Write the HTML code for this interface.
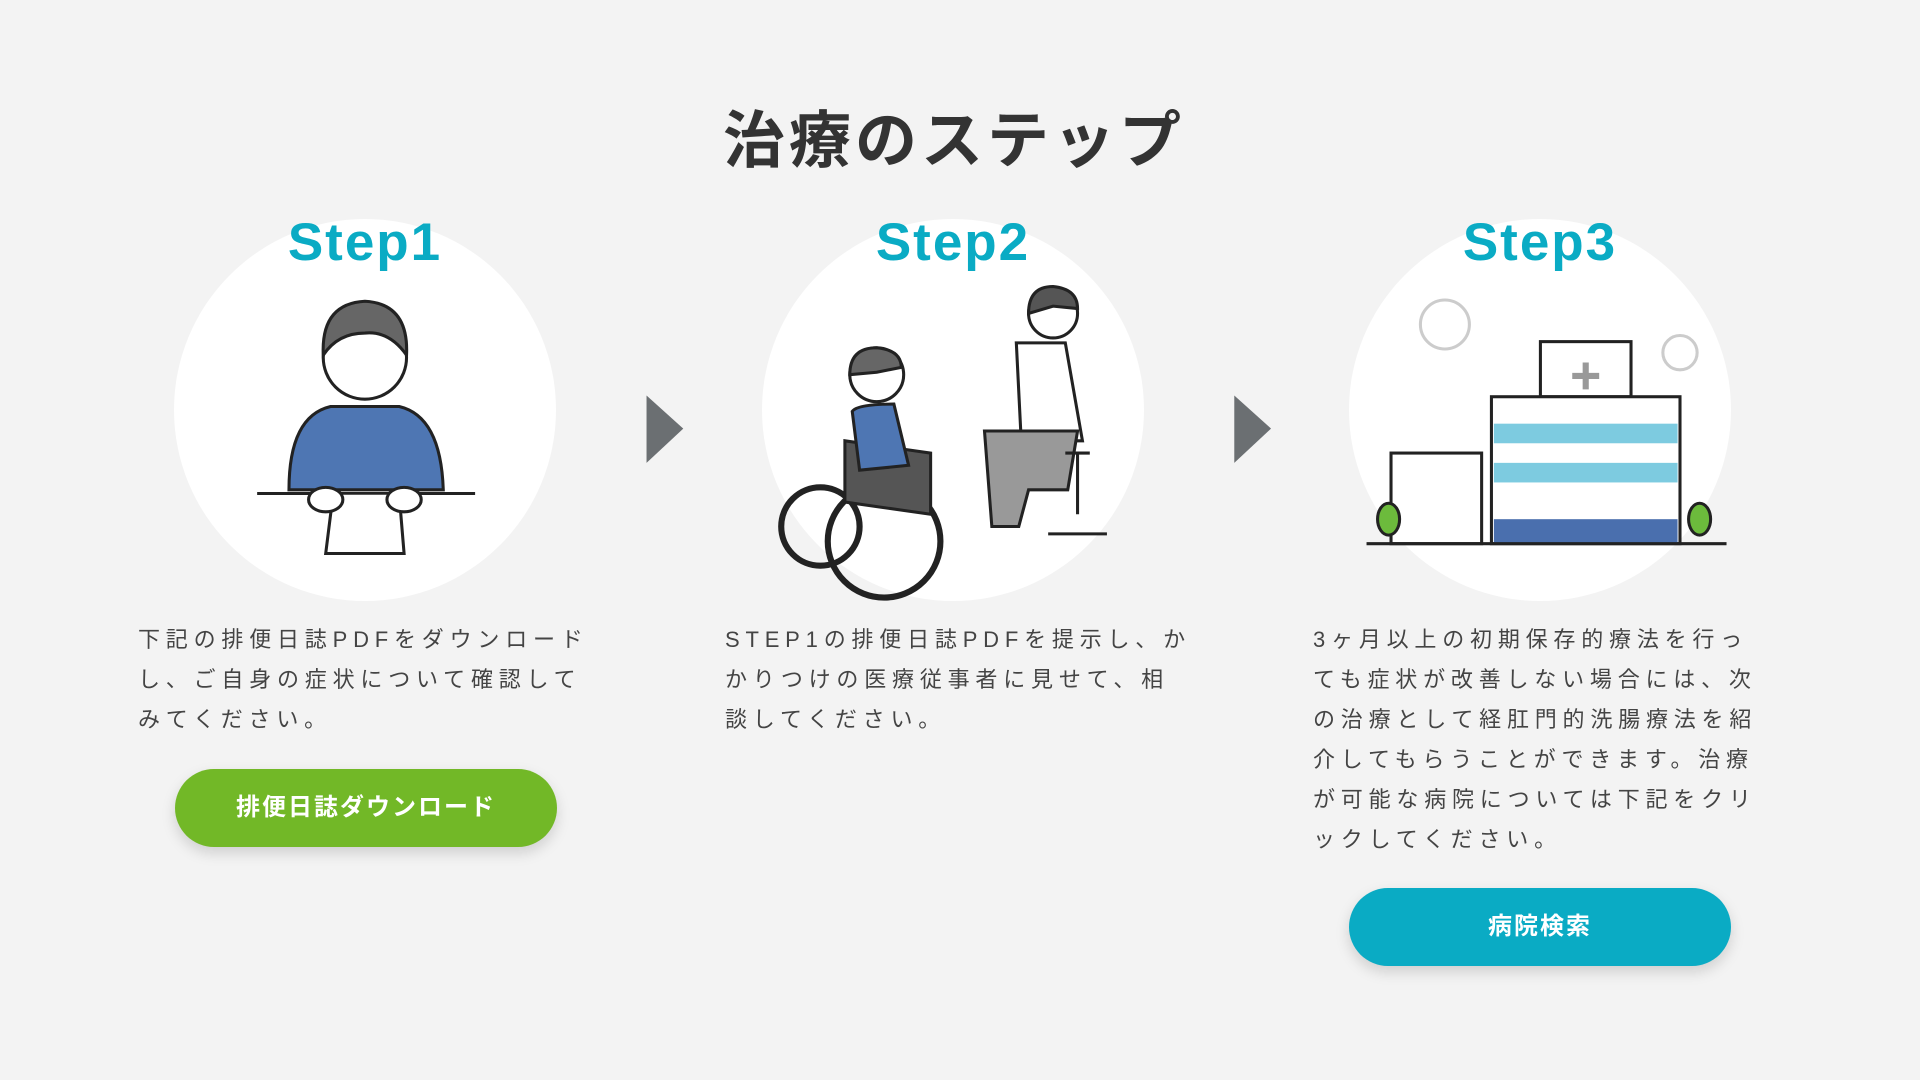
<!DOCTYPE html>
<html><head><meta charset="utf-8">
<style>
html,body{margin:0;padding:0}
body{width:1920px;height:1080px;background:#f3f3f3;position:relative;overflow:hidden;font-family:"Liberation Sans","Noto Sans CJK JP",sans-serif;color:#3a3a3a}
.t{position:absolute;left:-6px;width:1920px;text-align:center;top:90px;font-size:62px;font-weight:bold;letter-spacing:4px;color:#333}
.circ{position:absolute;width:382px;height:382px;border-radius:50%;background:#fff;top:219px}
.st{position:absolute;width:382px;text-align:center;top:212px;font-size:53px;font-weight:bold;color:#0aabc4;letter-spacing:2px}
.p{position:absolute;top:620px;font-size:22px;line-height:40px;letter-spacing:5.8px;color:#444;white-space:nowrap}
.btn{position:absolute;width:382px;height:78px;border-radius:39px;color:#fff;font-weight:bold;font-size:24px;text-align:center;line-height:78px;letter-spacing:2px;box-shadow:0 6px 14px rgba(0,0,0,0.15)}
svg{position:absolute;left:0;top:0}
</style></head><body>
<div class="t">治療のステップ</div>
<div class="circ" style="left:174px"></div>
<div class="circ" style="left:762px"></div>
<div class="circ" style="left:1349px"></div>
<div class="st" style="left:174px">Step1</div>
<div class="st" style="left:762px">Step2</div>
<div class="st" style="left:1349px">Step3</div>
<svg width="1920" height="1080" viewBox="0 0 1568 882">
<polygon points="528,323 558,350 528,378" fill="#6b6f72"/>
<polygon points="1008,323 1038,350 1008,378" fill="#6b6f72"/>
<g stroke="#222" stroke-width="2.5">
<path d="M236,400 Q236,340 270,332 L326,332 Q360,340 362,400 Z" fill="#4e76b3"/>
<circle cx="298" cy="292" r="34" fill="#fff"/>
<path d="M264,290 Q262,248 298,246 Q334,248 332,290 Q318,270 298,272 Q276,272 264,290Z" fill="#666"/>
<line x1="210" y1="403" x2="388" y2="403"/>
<path d="M272,404 L266,452 L330,452 L326,404" fill="#fff"/>
<ellipse cx="266" cy="408" rx="14" ry="10" fill="#fff"/>
<ellipse cx="330" cy="408" rx="14" ry="10" fill="#fff"/>
</g>
<g stroke="#222" stroke-width="2.5">
<circle cx="722" cy="442" r="46" fill="none" stroke-width="5"/>
<circle cx="670" cy="430" r="32" fill="none" stroke-width="5"/>
<path d="M690,360 L760,370 L760,420 L690,410 Z" fill="#555"/>
<path d="M696,336 Q700,330 730,330 L742,380 L702,384Z" fill="#4e76b3"/>
<circle cx="716" cy="306" r="22" fill="#fff"/>
<path d="M694,306 Q694,284 716,284 Q736,286 736,300 L716,304Z" fill="#666"/>
<path d="M830,280 L870,280 L884,360 L834,360 Z" fill="#fff"/>
<path d="M804,352 L880,352 L872,400 L840,400 L832,430 L810,430 Z" fill="#999"/>
<circle cx="860" cy="256" r="20" fill="#fff"/>
<path d="M840,256 Q840,234 860,234 Q880,236 880,252 L860,250Z" fill="#555"/>
<path d="M870,370 L890,370 M880,370 L880,420 M856,436 L904,436" fill="none"/>
</g>
<g stroke="#222" stroke-width="2.5">
<circle cx="1180" cy="265" r="20" fill="#fff" stroke="#ccc"/>
<circle cx="1372" cy="288" r="14" fill="#fff" stroke="#ccc"/>
<rect x="1258" y="279" width="74" height="45" fill="#fff"/>
<rect x="1218" y="324" width="154" height="120" fill="#fff"/>
<rect x="1220" y="346" width="150" height="16" fill="#7dcbe0" stroke="none"/>
<rect x="1220" y="378" width="150" height="16" fill="#7dcbe0" stroke="none"/>
<rect x="1220" y="424" width="150" height="20" fill="#4a6fae" stroke="none"/>
<rect x="1136" y="370" width="74" height="74" fill="#fff"/>
<line x1="1116" y1="444" x2="1410" y2="444"/>
<ellipse cx="1134" cy="424" rx="9" ry="13" fill="#6cbb3c"/>
<ellipse cx="1388" cy="424" rx="9" ry="13" fill="#6cbb3c"/>
</g>
<path d="M1295,296 v22 M1284,307 h22" stroke="#999" stroke-width="5"/>
</svg>
<div class="p" style="left:138px">下記の排便日誌PDFをダウンロード<br>し、ご自身の症状について確認して<br>みてください。</div>
<div class="p" style="left:725px">STEP1の排便日誌PDFを提示し、か<br>かりつけの医療従事者に見せて、相<br>談してください。</div>
<div class="p" style="left:1313px">3ヶ月以上の初期保存的療法を行っ<br>ても症状が改善しない場合には、次<br>の治療として経肛門的洗腸療法を紹<br>介してもらうことができます。治療<br>が可能な病院については下記をクリ<br>ックしてください。</div>
<div class="btn" style="left:175px;top:769px;background:#72b827">排便日誌ダウンロード</div>
<div class="btn" style="left:1349px;top:888px;background:#0aabc4">病院検索</div>
</body></html>
